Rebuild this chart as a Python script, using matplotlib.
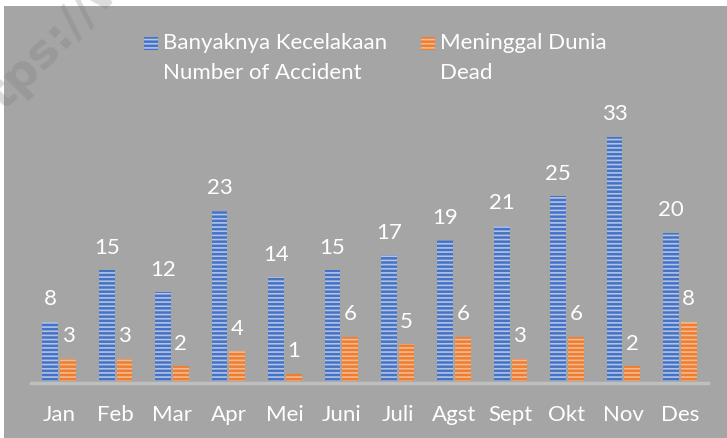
import matplotlib
matplotlib.use("Agg")
import matplotlib.pyplot as plt
import numpy as np
from matplotlib.patches import Rectangle

months = ["Jan", "Feb", "Mar", "Apr", "Mei", "Juni", "Juli", "Agst", "Sept", "Okt", "Nov", "Des"]
accidents = [8, 15, 12, 23, 14, 15, 17, 19, 21, 25, 33, 20]
dead = [3, 3, 2, 4, 1, 6, 5, 6, 3, 6, 2, 8]
legend_labels = ["Banyaknya Kecelakaan\nNumber of Accident", "Meninggal Dunia\nDead"]
colors = ['#4472c4', '#ed7d31']
stripe_colors = ['#b4c3e4', '#f5b98f']

plt.rcParams['font.family'] = ['Lato', 'DejaVu Sans']
plt.rcParams['hatch.linewidth'] = 1.2
FS = 16

W, H = 727, 438
fig = plt.figure(figsize=(W/100, H/100), dpi=100)
fig.patch.set_facecolor('white')
fig.patches.append(Rectangle((4/W, 0), (W-4)/W, (H-6)/H, transform=fig.transFigure,
                             facecolor='#a5a5a5', edgecolor='none', zorder=-5))

ax = fig.add_axes([31/W, 1-381/H, 677/W, (381-122)/H])
ax.set_zorder(2)
ax.set_facecolor('none')
for s in ['top', 'right', 'left']:
    ax.spines[s].set_visible(False)
ax.spines['bottom'].set_position(('outward', 1.2))
ax.spines['bottom'].set_color('#bfbfbf')
ax.spines['bottom'].set_linewidth(2.5)
ax.spines['bottom'].set_zorder(4)

x = np.arange(len(months))
bw = 0.28
gap = 0.035
b1 = ax.bar(x - bw/2 - gap/2, accidents, bw, color=colors[0], edgecolor=stripe_colors[0],
            linewidth=0, hatch='----', zorder=3)
b2 = ax.bar(x + bw/2 + gap/2, dead, bw, color=colors[1], edgecolor=stripe_colors[1],
            linewidth=0, hatch='----', zorder=3)

for rects, vals in ((b1, accidents), (b2, dead)):
    for r, v in zip(rects, vals):
        ax.annotate(str(v), (r.get_x() + r.get_width()/2, v), xytext=(0, 9),
                    textcoords='offset points', ha='center', va='bottom',
                    color='white', fontsize=FS)

ax.set_xlim(-0.5, 11.5)
ax.set_ylim(0, 35)
ax.set_yticks([])
ax.set_xticks(x)
ax.set_xticklabels(months, color='white', fontsize=FS)
ax.tick_params(axis='x', length=0, pad=16)

# legend (manual, to match two-line labels with top-aligned markers)
leg_x = [144, 421]
for lx, lab, c, sc in zip(leg_x, legend_labels, colors, stripe_colors):
    fig.patches.append(Rectangle((lx/W, 1-50/H), 14/W, 13/H, transform=fig.transFigure,
                                 facecolor=c, edgecolor=sc, linewidth=0, hatch='----',
                                 zorder=3))
    fig.text((lx+19)/W, 1-33/H, lab, color='white', fontsize=FS, ha='left', va='top',
             linespacing=1.65, zorder=3)

fig.text(3/W, 1-112/H, "tps://www.", rotation=45, rotation_mode='anchor',
         color='#767676', alpha=0.26, fontsize=34, fontweight='bold',
         family='DejaVu Sans', ha='left', va='baseline', zorder=10)

fig.savefig('out.png', dpi=100, facecolor='white')
